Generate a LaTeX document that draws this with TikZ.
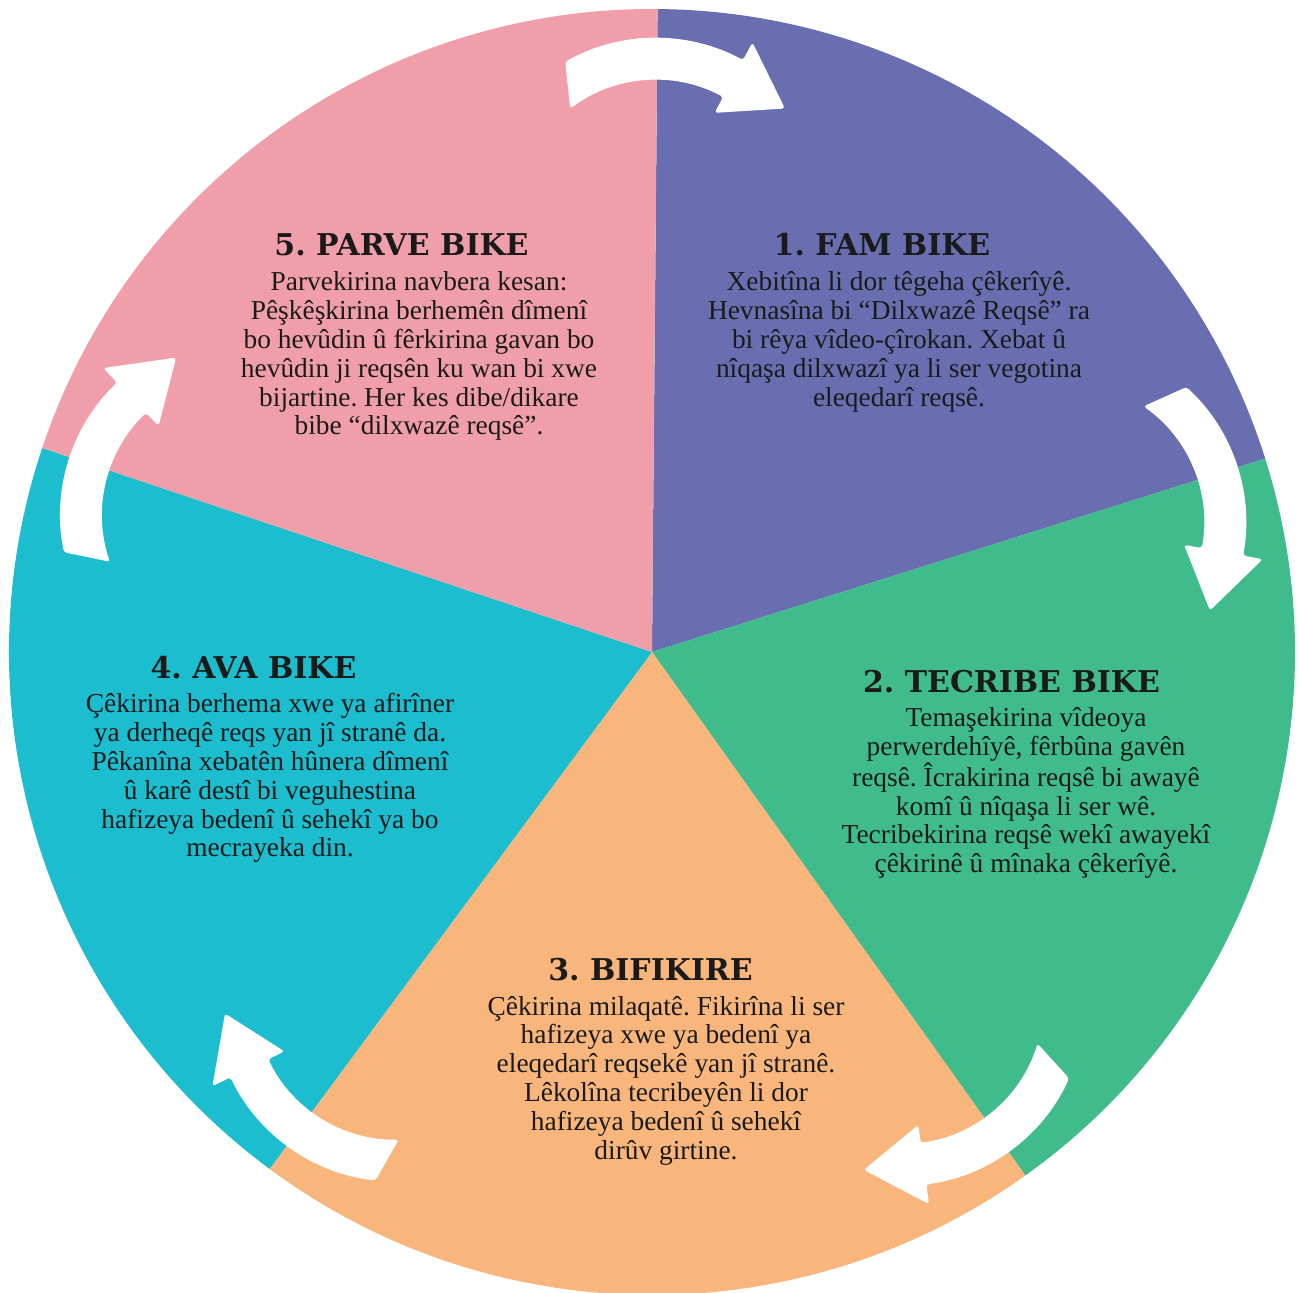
\documentclass[tikz,border=0pt]{standalone}
\usepackage{fontspec}
\setmainfont{Liberation Serif}
\newfontfamily\titlefont{DejaVu Serif}
\frenchspacing
\definecolor{cpurple}{HTML}{696EB0}
\definecolor{cgreen}{HTML}{40BC8C}
\definecolor{corange}{HTML}{F8B67D}
\definecolor{ccyan}{HTML}{1BBDCE}
\definecolor{cpink}{HTML}{F09FAA}
\definecolor{ctext}{HTML}{1A1A1A}
\newcommand{\bodyblock}[1]{\parbox[t]{520pt}{\centering #1}}
\tikzset{
  sector/.style={draw=none},
  cyclearrow/.style={fill=white, draw=none, rounded corners=3pt},
  titletext/.style={anchor=base, inner sep=0pt, text=ctext, font=\titlefont\bfseries\fontsize{30}{32}\selectfont},
  bodytext/.style={anchor=base, inner sep=0pt, text=ctext, font=\fontsize{27.4}{28.8}\selectfont}
}
\begin{document}
\begin{tikzpicture}[x=1pt,y=1pt]
\useasboundingbox (-652,-640) rectangle (648,652);
\clip (-652,-640) rectangle (648,652);
% sectors
\fill[sector, cpurple] (0,0) -- (17.5:643) arc[start angle=17.5, end angle=89.5, radius=643] -- cycle;
\fill[sector, cgreen] (0,0) -- (-54.5:643) arc[start angle=-54.5, end angle=17.5, radius=643] -- cycle;
\fill[sector, corange] (0,0) -- (-126.5:643) arc[start angle=-126.5, end angle=-54.5, radius=643] -- cycle;
\fill[sector, ccyan] (0,0) -- (161.5:643) arc[start angle=161.5, end angle=233.5, radius=643] -- cycle;
\fill[sector, cpink] (0,0) -- (89.5:643) arc[start angle=89.5, end angle=161.5, radius=643] -- cycle;
% arrows
\foreach \k in {0,...,4}{
  \begin{scope}[rotate=-0.5-72*\k, shift={(0,430)}]
    \fill[cyclearrow] (120:184) arc[start angle=120, end angle=62.2, radius=184]
      -- (62.2:204) -- (41.8:172) -- (62.2:124) -- (62.2:142)
      arc[start angle=62.2, end angle=127.5, radius=142] -- cycle;
  \end{scope}
}
% texts
\node[titletext] (t1) at (230,396) {1. FAM BIKE};
\node[bodytext] (b1) at (247,361) {\bodyblock{Xebitîna li dor têgeha çêkerîyê.\\Hevnasîna bi “Dilxwazê Reqsê” ra\\bi rêya vîdeo-çîrokan. Xebat û\\nîqaşa dilxwazî ya li ser vegotina\\eleqedarî reqsê.}};
\node[titletext] (t2) at (359.5,-41) {2. TECRIBE BIKE};
\node[bodytext] (b2) at (374,-75) {\bodyblock{Temaşekirina vîdeoya\\perwerdehîyê, fêrbûna gavên\\reqsê. Îcrakirina reqsê bi awayê\\komî û nîqaşa li ser wê.\\Tecribekirina reqsê wekî awayekî\\çêkirinê û mînaka çêkerîyê.}};
\node[titletext] (t3) at (-1.5,-328) {3. BIFIKIRE};
\node[bodytext] (b3) at (14,-363) {\bodyblock{Çêkirina milaqatê. Fikirîna li ser\\hafizeya xwe ya bedenî ya\\eleqedarî reqsekê yan jî stranê.\\Lêkolîna tecribeyên li dor\\hafizeya bedenî û sehekî\\dirûv girtine.}};
\node[titletext] (t4) at (-398.5,-27) {4. AVA BIKE};
\node[bodytext] (b4) at (-382,-61) {\bodyblock{Çêkirina berhema xwe ya afirîner\\ya derheqê reqs yan jî stranê da.\\Pêkanîna xebatên hûnera dîmenî\\û karê destî bi veguhestina\\hafizeya bedenî û sehekî ya bo\\mecrayeka din.}};
\node[titletext] (t5) at (-250.5,396) {5. PARVE BIKE};
\node[bodytext] (b5) at (-233,361) {\bodyblock{Parvekirina navbera kesan:\\Pêşkêşkirina berhemên dîmenî\\bo hevûdin û fêrkirina gavan bo\\hevûdin ji reqsên ku wan bi xwe\\bijartine. Her kes dibe/dikare\\bibe “dilxwazê reqsê”.}};
\end{tikzpicture}
\end{document}
